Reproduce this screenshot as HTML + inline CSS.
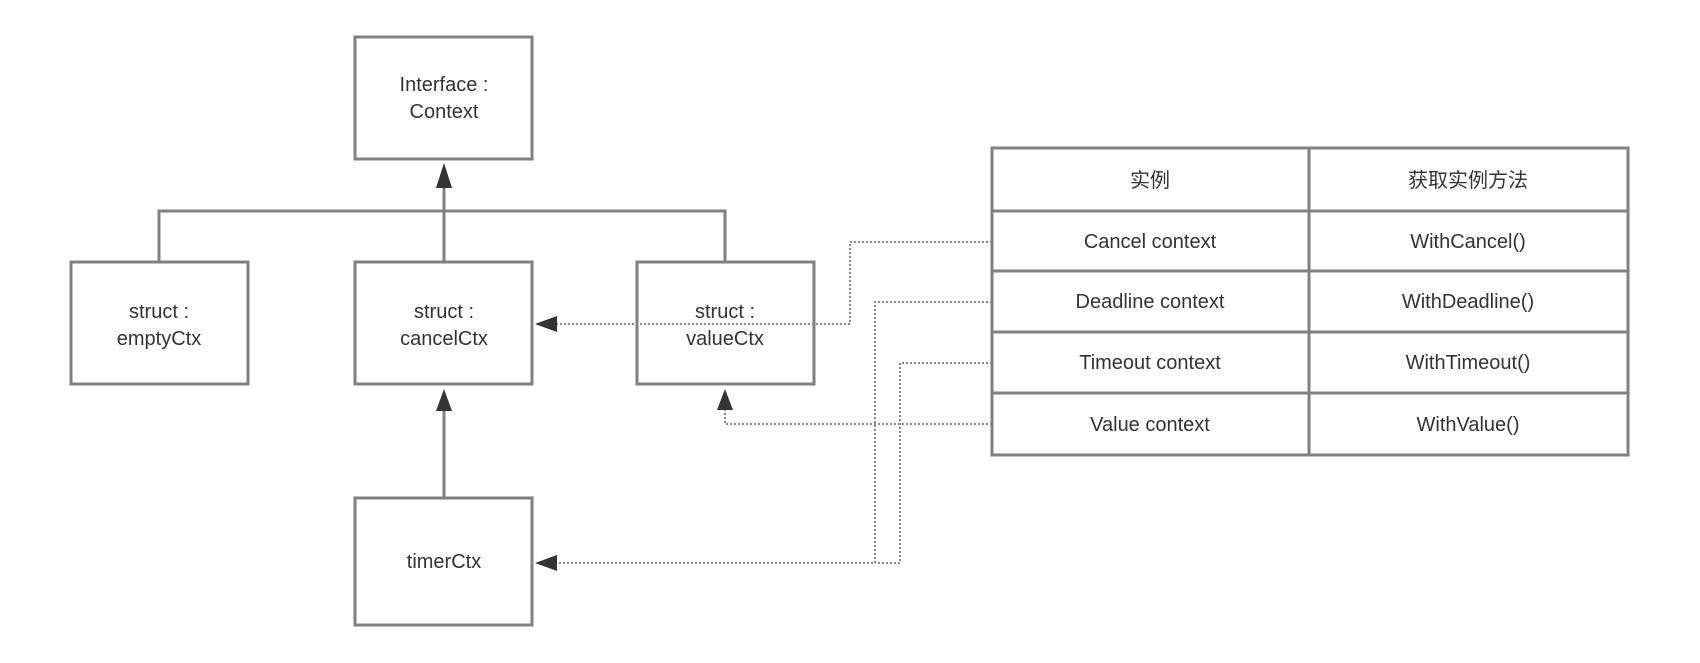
<!DOCTYPE html>
<html><head><meta charset="utf-8"><style>
html,body{margin:0;padding:0;background:#fff;}
svg text{font-family:"Liberation Sans","Noto Sans CJK SC",sans-serif;font-size:20px;fill:#333;text-anchor:middle;}
</style></head><body>
<svg width="1700" height="658" viewBox="0 0 1700 658" xmlns="http://www.w3.org/2000/svg">
<g fill="none" stroke="#808080" stroke-width="3">
<rect x="355" y="37" width="177" height="122"/>
<rect x="71" y="262" width="177" height="122"/>
<rect x="355" y="262" width="177" height="122"/>
<rect x="637" y="262" width="177" height="122"/>
<rect x="355" y="498" width="177" height="127"/>
<polyline points="159,262 159,211 725,211 725,262"/>
<line x1="444" y1="262" x2="444" y2="180"/>
<line x1="444" y1="498" x2="444" y2="405"/>
</g>
<g fill="#333">
<polygon points="444,163 436,188 452,188"/>
<polygon points="444,389 436,411 452,411"/>
<polygon points="535,324 557,316 557,332"/>
<polygon points="535,563 557,555 557,571"/>
<polygon points="725,389 717,410 733,410"/>
</g>
<g fill="none" stroke="#888" stroke-width="2" stroke-dasharray="2,2">
<polyline points="992,242 850,242 850,324 557,324"/>
<polyline points="992,302 875,302 875,563 557,563"/>
<polyline points="992,363 900,363 900,563 875,563"/>
<polyline points="992,424 725,424 725,410"/>
</g>
<g fill="none" stroke="#808080" stroke-width="3">
<rect x="992" y="148" width="636" height="307"/>
<line x1="1309" y1="148" x2="1309" y2="455"/>
<line x1="992" y1="211" x2="1628" y2="211"/>
<line x1="992" y1="271" x2="1628" y2="271"/>
<line x1="992" y1="332" x2="1628" y2="332"/>
<line x1="992" y1="393" x2="1628" y2="393"/>
</g>
<text x="444" y="91">Interface :</text>
<text x="444" y="118">Context</text>
<text x="159" y="318">struct :</text>
<text x="159" y="345">emptyCtx</text>
<text x="444" y="318">struct :</text>
<text x="444" y="345">cancelCtx</text>
<text x="725" y="318">struct :</text>
<text x="725" y="345">valueCtx</text>
<text x="444" y="568">timerCtx</text>
<text x="1150" y="187">实例</text>
<text x="1468" y="187">获取实例方法</text>
<text x="1150" y="248">Cancel context</text>
<text x="1468" y="248">WithCancel()</text>
<text x="1150" y="308">Deadline context</text>
<text x="1468" y="308">WithDeadline()</text>
<text x="1150" y="369">Timeout context</text>
<text x="1468" y="369">WithTimeout()</text>
<text x="1150" y="431">Value context</text>
<text x="1468" y="431">WithValue()</text>
</svg>
</body></html>
